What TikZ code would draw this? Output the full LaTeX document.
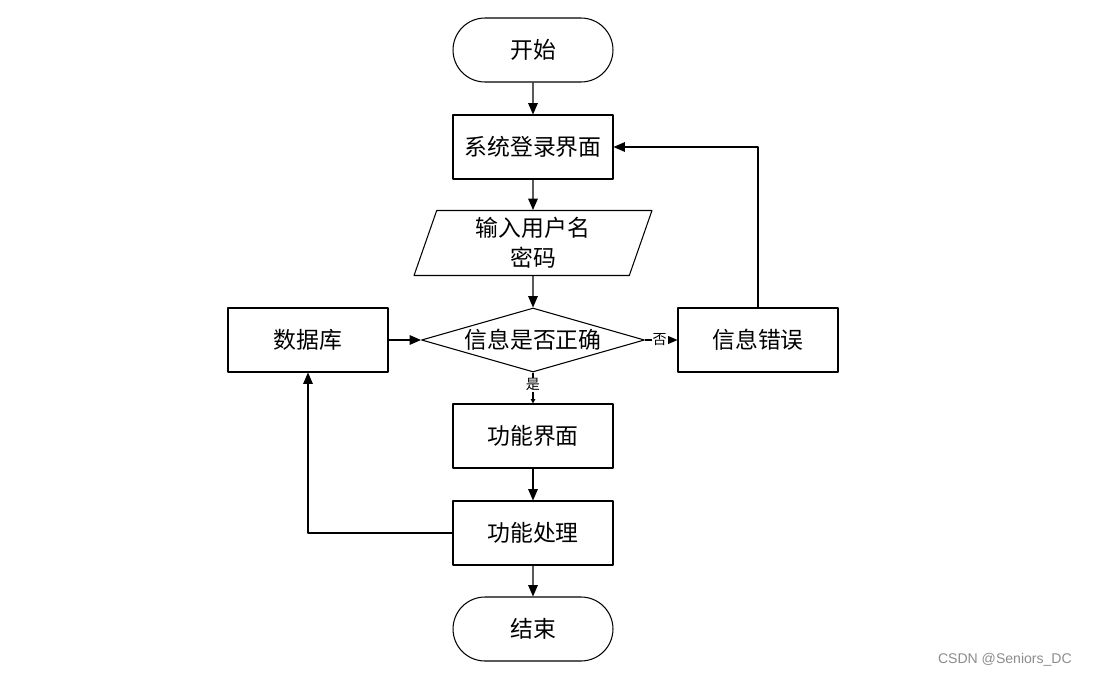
\documentclass[tikz,border=0pt]{standalone}
\usepackage{fontspec}
\newfontfamily\cjk{Noto Sans CJK SC}
\newfontfamily\wmfont{Liberation Sans}
\usetikzlibrary{shapes.geometric,shapes.misc,arrows.meta}
\begin{document}
\begin{tikzpicture}[x=0.02cm, y=-0.02cm, line join=round,
	>={Triangle[length=6.5pt,width=5.5pt]},
	font=\cjk\fontsize{13}{17}\selectfont,
	box/.style={draw, line width=0.6pt, minimum width=3.2cm, minimum height=1.28cm, inner sep=0pt},
	term/.style={box, rounded rectangle},
	io/.style={draw, line width=0.6pt, trapezium, trapezium left angle=66, trapezium right angle=114,
		trapezium stretches body, minimum width=4.76cm, minimum height=1.3cm, inner sep=0pt, align=center},
	test/.style={draw, line width=0.6pt, diamond, aspect=3.48, minimum width=4.46cm, minimum height=1.28cm, inner sep=0pt},
	flow/.style={->, line width=0.6pt},
	tag/.style={font=\cjk\fontsize{8}{9}\selectfont, fill=white, inner sep=0.5pt}]
	\useasboundingbox (0,0) rectangle (1093,676);
	\path
	(533,50) node[term] (start) {开始}
	(533,147) node[box] (login) {系统登录界面}
	(533,243) node[io] (input) {输入用户名\\密码}
	(533,340) node[test] (check) {信息是否正确}
	(308,340) node[box] (db) {数据库}
	(758,340) node[box] (err) {信息错误}
	(533,436) node[box] (menu) {功能界面}
	(533,533) node[box] (proc) {功能处理}
	(533,629) node[term] (stop) {结束};
	\draw[flow] (start) -- (login);
	\draw[flow] (login) -- (input);
	\draw[flow] (input) -- (check);
	\draw[flow] (db) -- (check);
	\draw[flow] (check) -- node[tag, pos=0.45] {否} (err);
	\draw[line width=0.6pt, -{Triangle[length=2.5pt,width=2.5pt]}] (check) -- node[tag, pos=0.4] {是} (menu);
	\draw[flow] (err.north) |- (login.east);
	\draw[flow] (menu) -- (proc);
	\draw[flow] (proc) -- (stop);
	\draw[flow] (proc.west) -| (db.south);
	\node[anchor=east, text=black!45, font=\wmfont\fontsize{8}{9}\selectfont] (mark) at (1078,660) {CSDN @Seniors\_DC};
\end{tikzpicture}
\end{document}
